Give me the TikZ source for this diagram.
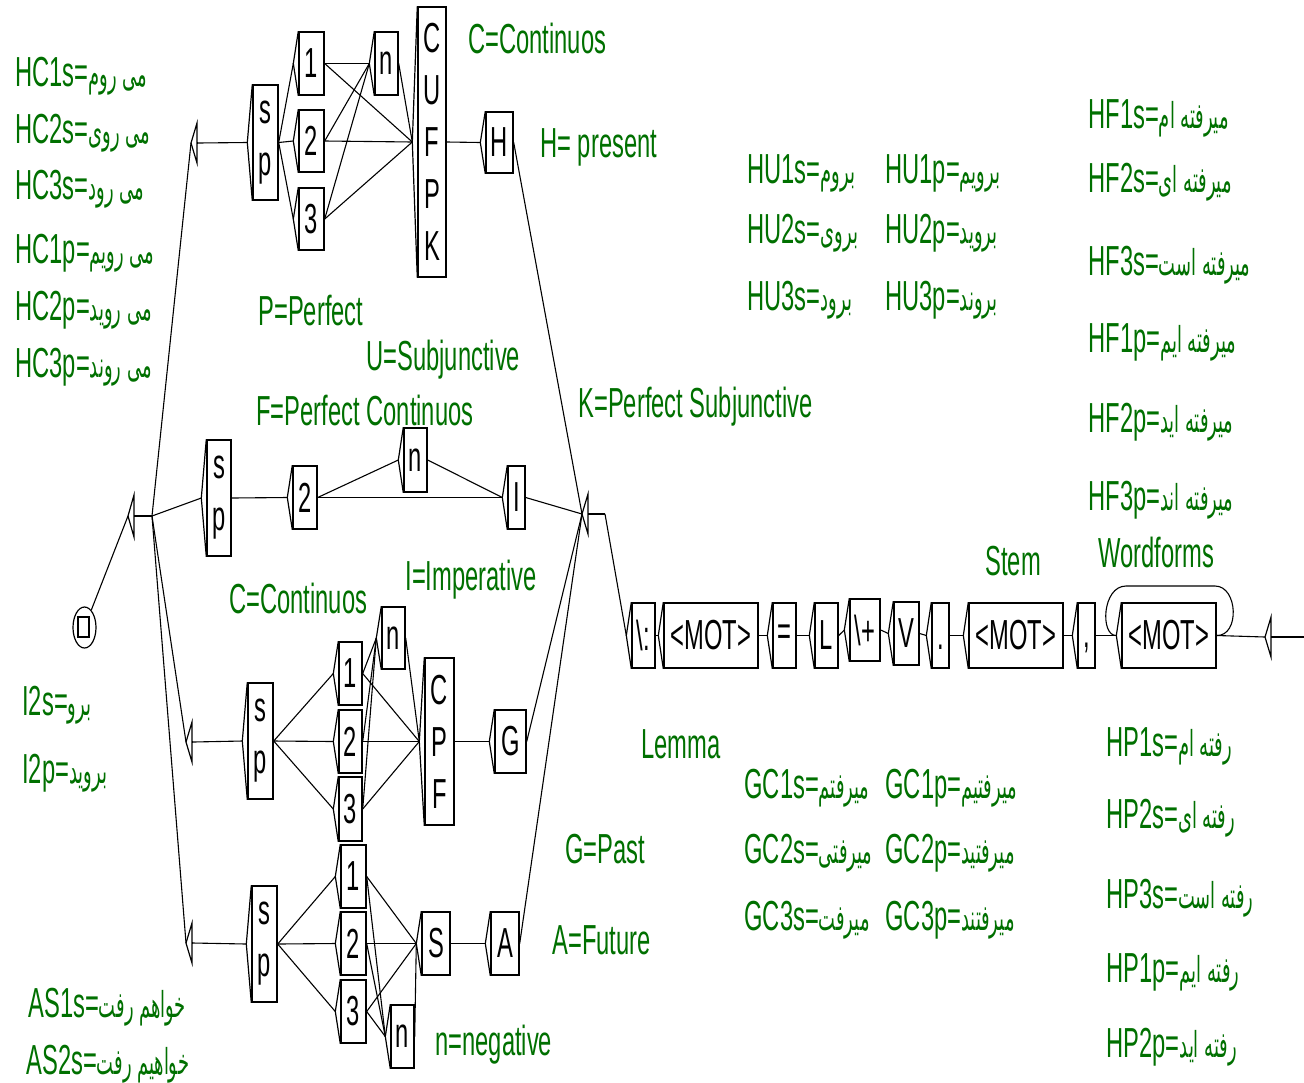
\documentclass[tikz,border=0pt]{standalone}
\usepackage{fontspec}
\setmainfont{Liberation Sans}[FakeStretch=0.565]
\newfontfamily\arabicfont[Script=Arabic,FakeStretch=0.5,Scale=0.85]{DejaVu Sans}
\TeXXeTstate=1
\usetikzlibrary{shapes.geometric}
\definecolor{ugreen}{RGB}{0,112,0}
\newcommand\ArT[1]{{\arabicfont\beginR #1\endR}}
\tikzset{
 ubox/.style={draw, line width=0.7pt, inner sep=0pt, align=center, font=\fontsize{21}{26}\selectfont},
 tipline/.style={line width=0.6pt},
 link/.style={line width=0.55pt},
 lbl/.style={anchor=base west, inner sep=0pt, text=ugreen, font=\fontsize{21}{26}\selectfont},
}
% name, xl, xr, yt, yb, text
\newcommand\UBox[6]{%
  \node[ubox, minimum width={(#3-#2)*0.5pt}, minimum height={(#5-#4)*0.5pt}] (#1) at ({(#2+#3)/2},{(#4+#5)/2}) {#6};
  \draw[tipline] (#1.north west) -- ([xshift=-2.5pt]#1.west) -- (#1.south west);
  \coordinate (#1-in) at ([xshift=-2.5pt]#1.west);
}
% name, tipx, y, halfheight, stub
\newcommand\EBox[5]{%
  \coordinate (#1-in) at (#2,#3);
  \coordinate (#1-r) at ({#2+6},#3);
  \coordinate (#1-out) at ({#2+6+#5},#3);
  \draw[tipline] (#1-in) -- ++(6,-#4) -- ++(0,{2*#4}) -- cycle;
  \draw[tipline] (#1-r) -- (#1-out);
}
\begin{document}
\begin{tikzpicture}[x=0.5pt,y=-0.5pt]
\fill[white] (0,0) rectangle (1304,1082);
\useasboundingbox (0,0) rectangle (1304,1082);

% initial state
\node[draw, ellipse, inner sep=0pt, minimum width=11.5pt, minimum height=20.5pt, line width=0.6pt] (init) at (84.5,627.5) {};
\draw[line width=0.6pt] (78,617) rectangle (89,637);

% epsilon boxes
\EBox{ez}{128}{516}{21}{18}
\EBox{ea}{191}{143}{20}{1}
\EBox{ec}{186}{742}{20}{1}
\EBox{ed}{186}{943}{20}{1}
\EBox{er}{582}{514}{20}{17}
\EBox{fin}{1265}{637}{20}{33}

% top group
\UBox{spA}{253}{278}{85}{200}{s\\p}
\UBox{a1}{299}{324}{32}{95}{1}
\UBox{a2}{299}{324}{110}{172}{2}
\UBox{a3}{299}{324}{188}{250}{3}
\UBox{an}{375}{398}{32}{95}{n}
\UBox{aC}{418}{446}{7}{277}{C\\U\\F\\P\\K}
\UBox{aH}{486}{513}{112}{173}{H}

% middle group
\UBox{spB}{207}{231}{440}{556}{s\\p}
\UBox{b2}{293}{317}{466}{529}{2}
\UBox{bn}{404}{427}{428}{492}{n}
\UBox{bI}{508}{525}{466}{529}{I}

% lower group 1
\UBox{spC}{248}{273}{683}{799}{s\\p}
\UBox{c1}{339}{362}{642}{705}{1}
\UBox{c2}{339}{362}{710}{773}{2}
\UBox{c3}{339}{362}{777}{841}{3}
\UBox{cn}{382}{405}{607}{669}{n}
\UBox{cC}{425}{454}{658}{825}{C\\P\\F}
\UBox{cG}{495}{526}{710}{773}{G}

% lower group 2
\UBox{spD}{252}{277}{886}{1002}{s\\p}
\UBox{d1}{341}{366}{845}{908}{1}
\UBox{d2}{341}{366}{912}{975}{2}
\UBox{d3}{341}{366}{980}{1043}{3}
\UBox{dS}{422}{450}{912}{975}{S}
\UBox{dA}{491}{519}{912}{975}{A}
\UBox{dn}{391}{414}{1005}{1068}{n}

% bottom row
\UBox{e1}{632}{655}{603}{668}{\textbackslash:}
\UBox{e2}{664}{758}{603}{668}{<MOT>}
\UBox{e3}{773}{796}{603}{668}{=}
\UBox{e4}{815}{838}{603}{668}{L}
\UBox{e5}{850}{880}{599}{661}{\textbackslash+}
\UBox{e6}{894}{919}{602}{665}{V}
\UBox{e7}{932}{949}{603}{668}{\vphantom{L}.}
\UBox{e8}{969}{1063}{603}{668}{<MOT>}
\UBox{e9}{1078}{1095}{603}{668}{\vphantom{L},}
\UBox{e10}{1122}{1216}{603}{668}{<MOT>}

% connectors
\begin{scope}[link]
\draw (init) -- (ez-in);
\draw (ez-out) -- (ea-in);
\draw (ez-out) -- (spB-in);
\draw (ez-out) -- (ec-in);
\draw (ez-out) -- (ed-in);
% top
\draw (ea-out) -- (spA-in);
\foreach \t in {a1,a2,a3} {\draw (spA.east) -- (\t-in);}
\foreach \s in {a1,a2,a3} {\draw (\s.east) -- (an-in); \draw (\s.east) -- (aC-in);}
\draw (an.east) -- (aC-in);
\draw (aC.east) -- (aH-in);
\draw (aH.east) -- (er-in);
% middle
\draw (spB.east) -- (b2-in);
\draw (b2.east) -- (bn-in);
\draw (b2.east) -- (bI-in);
\draw (bn.east) -- (bI-in);
\draw (bI.east) -- (er-in);
% lower 1
\draw (ec-out) -- (spC-in);
\foreach \t in {c1,c2,c3} {\draw (spC.east) -- (\t-in);}
\foreach \s in {c1,c2,c3} {\draw (\s.east) -- (cn-in); \draw (\s.east) -- (cC-in);}
\draw (cn.east) -- (cC-in);
\draw (cC.east) -- (cG-in);
\draw (cG.east) -- (er-in);
% lower 2
\draw (ed-out) -- (spD-in);
\foreach \t in {d1,d2,d3} {\draw (spD.east) -- (\t-in);}
\foreach \s in {d1,d2,d3} {\draw (\s.east) -- (dS-in); \draw (\s.east) -- (dn-in);}
\draw (dn.east) -- (dS-in);
\draw (dS.east) -- (dA-in);
\draw (dA.east) -- (er-in);
% bottom row
\draw (er-out) -- (e1-in);
\draw (e1.east) -- (e2-in);
\draw (e2.east) -- (e3-in);
\draw (e3.east) -- (e4-in);
\draw (e4.east) -- (e5-in);
\draw (e5.east) -- (e6-in);
\draw (e6.east) -- (e7-in);
\draw (e7.east) -- (e8-in);
\draw (e8.east) -- (e9-in);
\draw (e9.east) -- (e10-in);
\draw (e10.east) -- (fin-in);
\draw (e10.east) .. controls (1240,636) and (1238,586) .. (1215,586) -- (1126,586) .. controls (1102,586) and (1100,636) .. (e10-in);
\end{scope}

% labels
\node[lbl] (lHC1s) at (15,86) {HC1s=\ArT{می روم}};
\node[lbl] (lHC2s) at (15,143) {HC2s=\ArT{می روی}};
\node[lbl] (lHC3s) at (15,199) {HC3s=\ArT{می رود}};
\node[lbl] (lHC1p) at (15,263) {HC1p=\ArT{می رویم}};
\node[lbl] (lHC2p) at (15,320) {HC2p=\ArT{می روید}};
\node[lbl] (lHC3p) at (15,377) {HC3p=\ArT{می روند}};
\node[lbl] (lI2s) at (22,715) {I2s=\ArT{برو}};
\node[lbl] (lI2p) at (22,783) {I2p=\ArT{بروید}};
\node[lbl] (lAS1s) at (28,1017) {AS1s=\ArT{خواهم رفت}};
\node[lbl] (lAS2s) at (26,1074) {AS2s=\ArT{خواهیم رفت}};

\node[lbl] (lCa) at (468,53) {C=Continuos};
\node[lbl] (lH) at (540,157) {H= present};
\node[lbl] (lP) at (258,325) {P=Perfect};
\node[lbl] (lU) at (366,370) {U=Subjunctive};
\node[lbl] (lF) at (256,425) {F=Perfect Continuos};
\node[lbl] (lK) at (578,417) {K=Perfect Subjunctive};
\node[lbl] (lI) at (405,590) {I=Imperative};
\node[lbl] (lCb) at (229,613) {C=Continuos};
\node[lbl] (lStem) at (985,575) {Stem};
\node[lbl] (lWf) at (1098,567) {Wordforms};
\node[lbl] (lLemma) at (641,758) {Lemma};
\node[lbl] (lG) at (565,863) {G=Past};
\node[lbl] (lA) at (552,954) {A=Future};
\node[lbl] (lneg) at (435,1055) {n=negative};

\node[lbl] (lHU1s) at (747,183) {HU1s=\ArT{بروم}};
\node[lbl] (lHU1p) at (885,183) {HU1p=\ArT{برویم}};
\node[lbl] (lHU2s) at (747,243) {HU2s=\ArT{بروی}};
\node[lbl] (lHU2p) at (885,243) {HU2p=\ArT{بروید}};
\node[lbl] (lHU3s) at (747,310) {HU3s=\ArT{برود}};
\node[lbl] (lHU3p) at (885,310) {HU3p=\ArT{بروند}};

\node[lbl] (lHF1s) at (1088,128) {HF1s=\ArT{میرفته ام}};
\node[lbl] (lHF2s) at (1088,192) {HF2s=\ArT{میرفته ای}};
\node[lbl] (lHF3s) at (1088,275) {HF3s=\ArT{میرفته است}};
\node[lbl] (lHF1p) at (1088,352) {HF1p=\ArT{میرفته ایم}};
\node[lbl] (lHF2p) at (1088,432) {HF2p=\ArT{میرفته اید}};
\node[lbl] (lHF3p) at (1088,510) {HF3p=\ArT{میرفته اند}};

\node[lbl] (lGC1s) at (744,798) {GC1s=\ArT{میرفتم}};
\node[lbl] (lGC1p) at (885,798) {GC1p=\ArT{میرفتیم}};
\node[lbl] (lGC2s) at (744,863) {GC2s=\ArT{میرفتی}};
\node[lbl] (lGC2p) at (885,863) {GC2p=\ArT{میرفتید}};
\node[lbl] (lGC3s) at (744,930) {GC3s=\ArT{میرفت}};
\node[lbl] (lGC3p) at (885,930) {GC3p=\ArT{میرفتند}};

\node[lbl] (lHP1s) at (1106,756) {HP1s=\ArT{رفته ام}};
\node[lbl] (lHP2s) at (1106,828) {HP2s=\ArT{رفته ای}};
\node[lbl] (lHP3s) at (1106,908) {HP3s=\ArT{رفته است}};
\node[lbl] (lHP1p) at (1106,982) {HP1p=\ArT{رفته ایم}};
\node[lbl] (lHP2p) at (1106,1057) {HP2p=\ArT{رفته اید}};
\end{tikzpicture}
\end{document}
